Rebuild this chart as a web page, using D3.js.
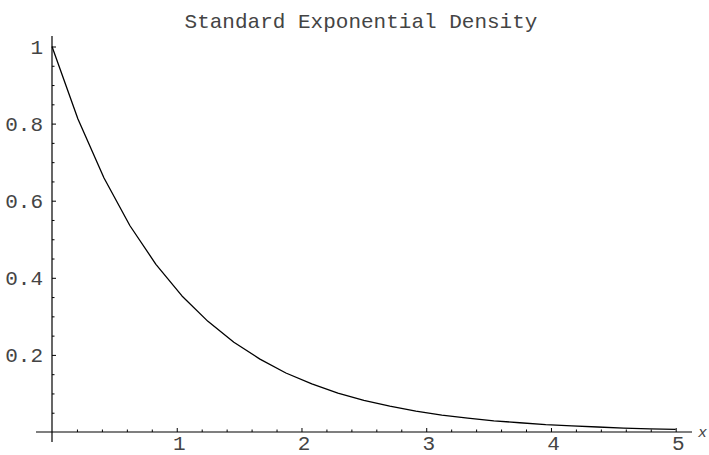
<!DOCTYPE html>
<html>
<head>
<meta charset="utf-8">
<script src="https://cdn.jsdelivr.net/npm/d3@7"></script>
<style>
  html, body { margin: 0; padding: 0; background: #fff; }
  svg { display: block; }
  text { font-family: "Liberation Mono", "DejaVu Sans Mono", monospace; fill: #444; }
</style>
</head>
<body>
<svg id="chart" width="709" height="455"></svg>
<script>
// Data (density curve samples)
const xValues = [0, 0.208, 0.417, 0.625, 0.833, 1.042, 1.25, 1.458, 1.667, 1.875, 2.083, 2.292, 2.5,
                 2.708, 2.917, 3.125, 3.333, 3.542, 3.75, 3.958, 4.167, 4.375, 4.583, 4.792, 5];
const yValues = [1, 0.812, 0.659, 0.535, 0.435, 0.353, 0.287, 0.233, 0.189, 0.153, 0.125, 0.101, 0.082,
                 0.067, 0.054, 0.044, 0.036, 0.029, 0.024, 0.019, 0.016, 0.013, 0.010, 0.008, 0.007];
const xMajorTicks = [1, 2, 3, 4, 5];
const xMinorTicks = [0.2, 0.4, 0.6, 0.8, 1.2, 1.4, 1.6, 1.8, 2.2, 2.4, 2.6, 2.8, 3.2, 3.4, 3.6, 3.8, 4.2, 4.4, 4.6, 4.8];
const yMajorTicks = [0.2, 0.4, 0.6, 0.8, 1];
const yTickLabels = ["0.2", "0.4", "0.6", "0.8", "1"];
const yMinorTicks = [0.05, 0.1, 0.15, 0.25, 0.3, 0.35, 0.45, 0.5, 0.55, 0.65, 0.7, 0.75, 0.85, 0.9, 0.95];
const title = "Standard Exponential Density";
const xAxisLabel = "x";

const svg = d3.select("#chart");
const x = d3.scaleLinear().domain([0, 5]).range([52, 675.7]);
const y = d3.scaleLinear().domain([0, 1]).range([432, 46.5]);

const fontSize = 21;

// axis lines (Mathematica style, crossing at origin)
svg.append("line")
  .attr("x1", 36).attr("x2", 692)
  .attr("y1", y(0)).attr("y2", y(0))
  .attr("stroke", "#000").attr("stroke-width", 1.2);
svg.append("line")
  .attr("x1", x(0)).attr("x2", x(0))
  .attr("y1", 36).attr("y2", 442)
  .attr("stroke", "#000").attr("stroke-width", 1.2);

// x axis major ticks + labels
const xAxis = d3.axisBottom(x).tickValues(xMajorTicks).tickSize(-4).tickPadding(3.5)
  .tickFormat(d => String(d));
const gx = svg.append("g").attr("transform", `translate(0,${y(0)})`).call(xAxis);
gx.select(".domain").remove();
gx.selectAll(".tick line").attr("stroke", "#000").attr("stroke-width", 1);
gx.selectAll(".tick text").attr("font-size", fontSize).attr("font-family", "Liberation Mono")
  .attr("fill", "#444").attr("dx", 2);

// x minor ticks
const xAxisMinor = d3.axisBottom(x).tickValues(xMinorTicks).tickSize(-2.5).tickFormat("");
const gxm = svg.append("g").attr("transform", `translate(0,${y(0)})`).call(xAxisMinor);
gxm.select(".domain").remove();
gxm.selectAll(".tick line").attr("stroke", "#000").attr("stroke-width", 1);

// y axis major ticks + labels
const yAxis = d3.axisLeft(y).tickValues(yMajorTicks).tickSize(-4).tickPadding(9)
  .tickFormat((d, i) => yTickLabels[i]);
const gy = svg.append("g").attr("transform", `translate(${x(0)},0)`).call(yAxis);
gy.select(".domain").remove();
gy.selectAll(".tick line").attr("stroke", "#000").attr("stroke-width", 1);
gy.selectAll(".tick text").attr("font-size", fontSize).attr("font-family", "Liberation Mono")
  .attr("fill", "#444");

// y minor ticks
const yAxisMinor = d3.axisLeft(y).tickValues(yMinorTicks).tickSize(-2.5).tickFormat("");
const gym = svg.append("g").attr("transform", `translate(${x(0)},0)`).call(yAxisMinor);
gym.select(".domain").remove();
gym.selectAll(".tick line").attr("stroke", "#000").attr("stroke-width", 1);

// curve
const pts = xValues.map((v, i) => [v, yValues[i]]);
svg.append("path")
  .datum(pts)
  .attr("fill", "none")
  .attr("stroke", "#000")
  .attr("stroke-width", 1.3)
  .attr("stroke-linejoin", "round")
  .attr("d", d3.line().x(d => x(d[0])).y(d => y(d[1])));

// title
svg.append("text")
  .attr("x", 361).attr("y", 27.5)
  .attr("text-anchor", "middle")
  .attr("font-size", fontSize)
  .text(title);

// x axis label
svg.append("text")
  .attr("x", 698).attr("y", 437)
  .attr("font-size", 15)
  .attr("font-style", "italic")
  .text(xAxisLabel);
</script>
</body>
</html>
